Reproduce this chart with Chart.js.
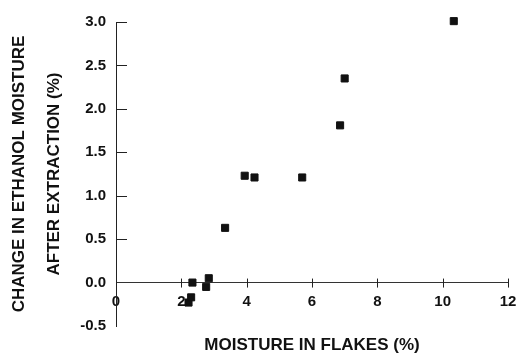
<!DOCTYPE html>
<html>
<head>
<meta charset="utf-8">
<script src="https://cdn.jsdelivr.net/npm/chart.js@4.4.1/dist/chart.umd.min.js"></script>
<style>
  html, body { margin: 0; padding: 0; background: #fff; }
  #wrap { width: 516px; height: 354px; }
</style>
</head>
<body>
<div id="wrap"><canvas id="moistureChart" width="516" height="354"></canvas></div>
<script>
// Moisture in flakes (%) vs change in ethanol moisture after extraction (%)
const flakeMoisture = [2.22, 2.30, 2.34, 2.76, 2.84, 3.34, 3.94, 4.24, 5.70, 6.86, 7.00, 10.34];
const ethanolChange = [-0.23, -0.17, 0.00, -0.05, 0.05, 0.63, 1.23, 1.21, 1.21, 1.81, 2.35, 3.01];

const xTicks = [0, 2, 4, 6, 8, 10, 12];
const yTicks = [-0.5, 0.0, 0.5, 1.0, 1.5, 2.0, 2.5, 3.0];

const xTitle = 'MOISTURE IN FLAKES (%)';
const yTitle = ['CHANGE IN ETHANOL MOISTURE', 'AFTER EXTRACTION (%)'];

const points = flakeMoisture.map((x, i) => ({ x: x, y: ethanolChange[i] }));

const fontFamily = '"Liberation Sans", Arial, Helvetica, sans-serif';
const ink = '#111';

// Tick marks: y ticks point into the plot, x ticks cross the zero line.
const tickMarks = {
  id: 'tickMarks',
  afterDraw(chart) {
    const { ctx, scales: { x, y } } = chart;
    const y0 = y.getPixelForValue(0);
    ctx.save();
    ctx.strokeStyle = '#222';
    ctx.lineWidth = 1;
    ctx.beginPath();
    yTicks.forEach(v => {
      if (v <= 0) return;
      const py = Math.round(y.getPixelForValue(v)) + 0.5;
      ctx.moveTo(x.left, py);
      ctx.lineTo(x.left + 11, py);
    });
    xTicks.forEach(v => {
      if (v === 0) return;
      const px = Math.round(x.getPixelForValue(v)) + 0.5;
      ctx.moveTo(px, y0 - 4);
      ctx.lineTo(px, y0 + 5);
    });
    ctx.stroke();
    ctx.restore();
  }
};

const ctx = document.getElementById('moistureChart').getContext('2d');
const chart = new Chart(ctx, {
  type: 'scatter',
  data: {
    datasets: [{
      data: points,
      pointStyle: 'rect',
      pointRadius: 5,
      pointBorderWidth: 1,
      backgroundColor: '#111',
      borderColor: '#111',
      clip: false
    }]
  },
  options: {
    responsive: false,
    animation: false,
    layout: { padding: { left: 0, top: 22, right: 8, bottom: 0 } },
    plugins: {
      legend: { display: false },
      tooltip: { enabled: false },
      title: {
        display: true,
        position: 'bottom',
        fullSize: false,
        text: xTitle,
        color: ink,
        font: { family: fontFamily, size: 17, weight: 'bold', lineHeight: 1 },
        padding: { top: 11, bottom: 0 }
      }
    },
    scales: {
      x: {
        type: 'linear',
        position: { y: 0 },
        min: 0,
        max: 12,
        afterBuildTicks: s => { s.ticks = xTicks.map(v => ({ value: v })); },
        afterFit: s => { s.height = 0; s.paddingLeft = 0; s.paddingRight = 0; },
        grid: { display: false },
        border: { display: true, color: '#333', width: 1 },
        ticks: {
          color: ink,
          padding: 2,
          font: { family: fontFamily, size: 15, weight: 'bold' },
          callback: v => String(v)
        }
      },
      y: {
        type: 'linear',
        min: -0.5,
        max: 3.0,
        afterBuildTicks: s => { s.ticks = yTicks.map(v => ({ value: v })); },
        afterFit: s => { s.width = 116; s.paddingTop = 0; s.paddingBottom = 0; },
        grid: { display: false },
        border: { display: true, color: '#222', width: 1 },
        ticks: {
          color: ink,
          padding: 2,
          font: { family: fontFamily, size: 15, weight: 'bold' },
          callback: v => v.toFixed(1)
        },
        title: {
          display: true,
          text: yTitle,
          color: ink,
          font: { family: fontFamily, size: 17, weight: 'bold', lineHeight: 2.05 },
          padding: { top: 2, bottom: 0 }
        }
      }
    }
  },
  plugins: [tickMarks]
});
</script>
</body>
</html>
